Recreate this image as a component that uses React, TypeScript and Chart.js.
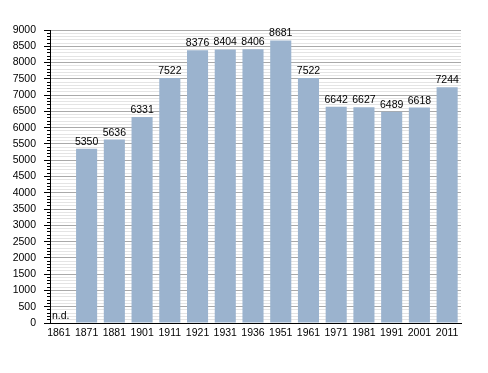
import React, { useEffect, useRef } from "react";
import { Chart, registerables } from "chart.js";

Chart.register(...registerables);

const years: string[] = [
  "1861", "1871", "1881", "1901", "1911", "1921", "1931", "1936",
  "1951", "1961", "1971", "1981", "1991", "2001", "2011",
];
const population: (number | null)[] = [
  null, 5350, 5636, 6331, 7522, 8376, 8404, 8406,
  8681, 7522, 6642, 6627, 6489, 6618, 7244,
];
const yMin = 0;
const yMax = 9000;
const majorStep = 500;
const minorStep = 100;
const missingLabel = "n.d.";

const FONT_FAMILY = "'Liberation Sans', Arial, Helvetica, sans-serif";
const FONT_SIZE = 10.5;
const BAR_COLOR = "#9bb3ce";

export default function App() {
  const ref = useRef<HTMLCanvasElement>(null);

  useEffect(() => {
    if (!ref.current) return;

    const labelPlugin = {
      id: "valueLabels",
      afterDatasetsDraw(chart: any) {
        const ctx = chart.ctx;
        const xs = chart.scales.x;
        const ys = chart.scales.y;
        ctx.save();
        ctx.font = `${FONT_SIZE}px ${FONT_FAMILY}`;
        ctx.fillStyle = "#000";
        ctx.textBaseline = "alphabetic";
        population.forEach((v, i) => {
          const x = xs.getPixelForValue(i);
          if (v == null) {
            ctx.textAlign = "left";
            ctx.fillText(missingLabel, xs.left + 2, ys.bottom - 4);
          } else {
            ctx.textAlign = "center";
            ctx.fillText(String(v), x, ys.getPixelForValue(v) - 4);
          }
        });
        ctx.restore();
      },
    };

    const chart = new Chart(ref.current, {
      type: "bar",
      data: {
        datasets: [
          {
            data: population.map((v, i) => ({ x: i, y: v })) as any,
            backgroundColor: BAR_COLOR,
            borderWidth: 0,
            barPercentage: 0.76,
            categoryPercentage: 1,
          },
        ],
      },
      options: {
        responsive: false,
        animation: false,
        devicePixelRatio: 1,
        layout: { padding: { top: 30, right: 27, bottom: 30, left: 0 } },
        plugins: {
          legend: { display: false },
          tooltip: { enabled: false },
        },
        scales: {
          x: {
            type: "linear",
            offset: false,
            min: -0.32,
            max: 14.5,
            bounds: "data",
            afterBuildTicks: (s: any) => {
              s.ticks = years.map((_, i) => ({ value: i }));
            },
            afterFit: (s: any) => {
              s.height = 20;
            },
            grid: { display: false, drawTicks: false, offset: false },
            border: { display: true, color: "#000", width: 1, z: 1 },
            ticks: {
              autoSkip: false,
              maxRotation: 0,
              minRotation: 0,
              padding: 4,
              color: "#000",
              font: { family: FONT_FAMILY, size: FONT_SIZE },
              callback: (v: any) => years[v as number] ?? "",
            },
          },
          y: {
            type: "linear",
            position: "left",
            weight: 1,
            min: yMin,
            max: yMax,
            afterFit: (s: any) => {
              s.width = 50;
            },
            ticks: {
              stepSize: majorStep,
              autoSkip: false,
              padding: 8,
              color: "#000",
              font: { family: FONT_FAMILY, size: FONT_SIZE },
              callback: (v: any) => String(v),
            },
            grid: {
              color: (c: any) =>
                c.tick && c.tick.value === yMin ? "rgba(0,0,0,0)" : "#a9a9a9",
              tickColor: "#000",
              tickLength: 6,
              lineWidth: 1,
            },
            border: { display: true, color: "#000", width: 1, z: 1 },
          },
          y2: {
            type: "linear",
            position: "left",
            weight: 0,
            min: yMin,
            max: yMax,
            afterFit: (s: any) => {
              s.width = 0;
            },
            ticks: { stepSize: minorStep, display: false, autoSkip: false },
            grid: {
              color: (c: any) =>
                c.tick && c.tick.value % majorStep === 0
                  ? "rgba(0,0,0,0)"
                  : "#e4e4e4",
              tickColor: "#000",
              tickLength: 3,
              lineWidth: 1,
            },
            border: { display: false },
          },
        },
      },
      plugins: [labelPlugin],
    });

    return () => chart.destroy();
  }, []);

  return (
    <div style={{ position: "fixed", left: 0, top: 0, width: 488, height: 373, background: "#fff" }}>
      <canvas ref={ref} width={488} height={373} style={{ display: "block", width: 488, height: 373 }} />
    </div>
  );
}
